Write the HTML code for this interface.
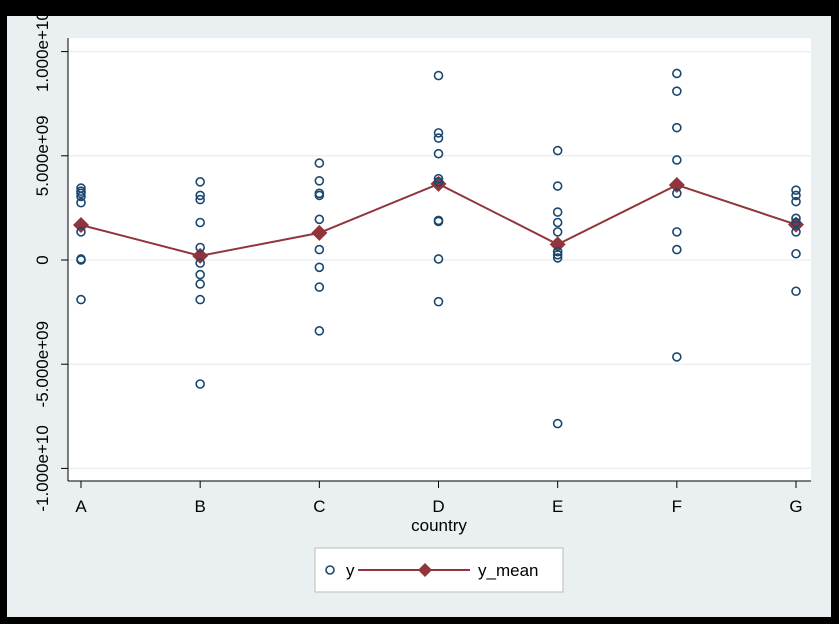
<!DOCTYPE html>
<html><head><meta charset="utf-8"><style>
html,body{margin:0;padding:0;background:#000;}
svg{display:block;font-family:"Liberation Sans",Arial,sans-serif;}
</style></head><body>
<svg id="chart" width="839" height="624" viewBox="0 0 839 624" xmlns="http://www.w3.org/2000/svg">
<rect x="0" y="0" width="839" height="624" fill="#000"/>
<rect x="7" y="16" width="824" height="601" fill="#eaf0f2"/>
<rect x="68" y="38" width="743" height="443" fill="#fff"/>
<g id="grid"></g>
<g id="yaxis"></g>
<g id="xaxis"></g>
<g id="meanline"></g>
<g id="points"></g>
<text x="439" y="531" font-size="17" text-anchor="middle" fill="#000">country</text>
<g>
<rect x="315" y="548" width="248" height="44" fill="#fff" stroke="#bbb" stroke-width="1"/>
<circle cx="330" cy="570" r="4" fill="none" stroke="#1a476f" stroke-width="1.6"/>
<text x="346" y="576" font-size="17" fill="#000">y</text>
<line x1="358" y1="570" x2="470" y2="570" stroke="#90353b" stroke-width="2"/>
<path d="M425 563 L432 570 L425 577 L418 570 Z" fill="#90353b"/>
<text x="478" y="576" font-size="17" fill="#000">y_mean</text>
</g>
</svg>
<script>
const categories = ["A","B","C","D","E","F","G"];
const yValsA = [3.45,3.3,3.2,3.05,2.75,1.35,0.05,0,-1.9];
const yValsB = [3.75,3.1,2.9,1.8,0.6,-0.15,-0.7,-1.15,-1.9,-5.95];
const yValsC = [4.65,3.8,3.2,3.1,1.95,0.5,-0.35,-1.3,-3.4];
const yValsD = [8.85,6.1,5.85,5.1,3.9,3.75,1.9,1.85,0.05,-2.0];
const yValsE = [5.25,3.55,2.3,1.8,1.35,0.4,0.25,0.1,-7.85];
const yValsF = [8.95,8.1,6.35,4.8,3.2,1.35,0.5,-4.65];
const yValsG = [3.35,3.1,2.8,2.0,1.8,1.35,0.3,-1.5];
const yMeans = [1.68,0.2,1.3,3.65,0.75,3.6,1.7];
const yTicks = [-10,-5,0,5,10];
const yTickLabels = ["-1.000e+10","-5.000e+09","0","5.000e+09","1.000e+10"];
const series = [yValsA,yValsB,yValsC,yValsD,yValsE,yValsF,yValsG];
const NS = "http://www.w3.org/2000/svg";
function xScale(i){ return 81 + i*(796-81)/(categories.length-1); }
function yScale(v){ return 260 - v*(104.2/5); }
function mk(tag, attrs, parent){
  const e = document.createElementNS(NS, tag);
  for (const k in attrs) e.setAttribute(k, attrs[k]);
  parent.appendChild(e); return e;
}
const grid = document.getElementById("grid");
const yaxis = document.getElementById("yaxis");
const xaxis = document.getElementById("xaxis");
yTicks.forEach((t,i)=>{
  const y = yScale(t);
  const g = mk("line",{x1:68,x2:811,y1:y,y2:y,stroke:"#eaf0f2","stroke-width":1.5},grid);
  
  
  const tk = mk("line",{x1:61,x2:68,y1:y,y2:y,stroke:"#000","stroke-width":1},yaxis);
  
  
  const tx = mk("text",{x:0,y:0,"font-size":17,"text-anchor":"middle",fill:"#000",transform:"translate(48,"+y+") rotate(-90)"},yaxis);
  tx.textContent = yTickLabels[i];
  
  
});
const yl = mk("line",{x1:68,x2:68,y1:38,y2:481,stroke:"#000","stroke-width":1},yaxis);


const xl = mk("line",{x1:68,x2:811,y1:481,y2:481,stroke:"#000","stroke-width":1},xaxis);


categories.forEach((c,i)=>{
  const x = xScale(i);
  const tk = mk("line",{x1:x,x2:x,y1:481,y2:488,stroke:"#000","stroke-width":1},xaxis);
  
  
  const tx = mk("text",{x:x,y:512,"font-size":17,"text-anchor":"middle",fill:"#000"},xaxis);
  tx.textContent = c;
  
  
});
const ml = document.getElementById("meanline");
const pts = yMeans.map((m,i)=>xScale(i)+","+yScale(m)).join(" ");
const pl = mk("polyline",{points:pts,fill:"none",stroke:"#90353b","stroke-width":2},ml);


const pg = document.getElementById("points");
series.forEach((vals,i)=>{
  vals.forEach(v=>{
    const c = mk("circle",{cx:xScale(i),cy:yScale(v),r:4,fill:"none",stroke:"#1a476f","stroke-width":1.6},pg);
    
    
  });
});
yMeans.forEach((m,i)=>{
  const x = xScale(i), y = yScale(m);
  const d = mk("path",{d:"M"+x+" "+(y-8)+" L"+(x+8)+" "+y+" L"+x+" "+(y+8)+" L"+(x-8)+" "+y+" Z",fill:"#90353b"},ml);
  
  
});
</script>
</body></html>
